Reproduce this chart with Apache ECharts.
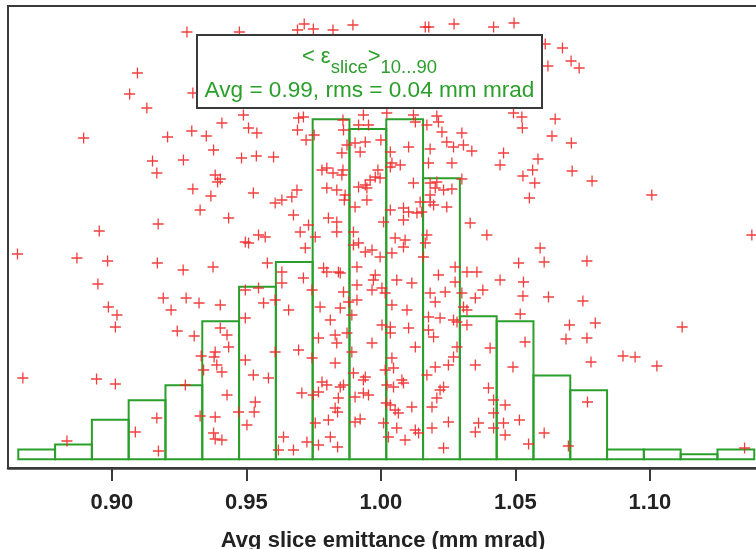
<!DOCTYPE html>
<html>
<head>
<meta charset="utf-8">
<script src="https://cdn.jsdelivr.net/npm/echarts@6/dist/echarts.min.js"></script>
<style>
  html, body { margin: 0; padding: 0; background: #ffffff; }
  #chart { width: 756px; height: 549px; }
</style>
</head>
<body>
<div id="chart"></div>
<script>
// Histogram of average slice emittance: 20 equal bins between the smallest and largest value
const binStart = 0.8652;
const binWidth = 0.01368;
const binCounts = [2, 3, 8, 12, 15, 28, 35, 40, 69, 67, 69, 57, 29, 28, 17, 14, 2, 2, 1, 2];

// Tick positions along the emittance axis (mm mrad)
const tickValues = [0.90, 0.95, 1.00, 1.05, 1.10];

// Individual shots: [emittance (mm mrad), vertical spread (arbitrary units)]
const scatterPoints = [
  [0.9279,436],[0.9474,436],[0.9095,395],[0.9066,374],[0.9130,360],[0.9301,375],[0.8895,330],[0.9489,353],
  [0.9409,345],[0.9297,337],[0.9351,332],[0.9207,331],[0.9508,340],[0.9539,335],[0.9378,318],[0.9151,307],
  [0.9266,308],[0.9482,310],[0.9537,312],[0.9167,295],[0.9384,293],[0.9403,289],[0.9393,286],[0.9301,279],
  [0.9368,272],[0.9526,275],[1.0495,445],[1.0611,424],[1.0675,420],[1.0707,407],[1.0737,400],[1.0621,402],
  [1.0493,355],[1.0524,351],[1.0526,340],[1.0648,349],[1.0636,332],[1.0708,325],[1.0456,315],[1.0443,303],
  [1.0584,309],[1.0564,298],[1.0528,292],[1.0572,285],[1.0711,297],[1.0785,287],[1.1007,273],[1.0552,270],
  [0.9690,438],[0.9715,444],[0.9749,439],[0.9822,438],[0.9896,443],[1.0165,441],[1.0178,441],[1.0272,444],
  [1.0419,441],[0.9694,350],[0.9712,351],[0.9859,348],[0.9935,353],[1.0022,355],[1.0121,353],[1.0208,352],
  [0.9601,311],[0.9690,338],[0.9722,328],[0.9752,333],[0.9861,338],[0.9954,343],[0.9917,343],[1.0000,328],
  [0.9942,326],[0.9904,325],[0.9874,323],[0.9923,316],[0.9855,315],[1.0128,346],[1.0171,343],[1.0214,346],
  [1.0227,336],[1.0245,326],[1.0270,321],[1.0301,335],[1.0307,323],[1.0338,317],[1.0103,321],[1.0035,316],
  [1.0183,319],[1.0041,305],[1.0035,301],[1.0072,303],[1.0177,305],[1.0264,305],[0.9989,298],[0.9979,291],
  [0.9997,290],[0.9960,288],[0.9942,283],[0.9917,281],[0.9948,280],[0.9948,268],[0.9799,300],[0.9781,298],
  [0.9822,295],[0.9859,298],[0.9855,293],[0.9799,280],[0.9836,278],[0.9867,273],[0.9864,268],[0.9904,261],
  [0.9688,278],[0.9669,271],[0.9632,268],[0.9607,265],[0.9328,258],[0.9434,250],[0.9675,253],[0.9731,243],
  [0.9805,250],[0.9836,246],[1.0010,246],[1.0035,258],[1.0084,260],[1.0103,256],[1.0134,255],[1.0152,256],
  [1.0146,266],[1.0121,285],[1.0183,285],[1.0208,286],[1.0202,280],[1.0233,278],[1.0264,279],[1.0183,273],
  [1.0196,263],[1.0245,261],[1.0183,266],[1.0301,289],[1.0332,245],[1.0084,248],[0.9496,226],[0.9508,225],
  [0.9545,233],[0.9570,231],[0.9700,236],[0.9719,220],[0.9756,231],[0.9836,236],[0.9898,236],[0.9898,223],
  [0.9917,225],[0.9942,216],[0.9967,218],[0.9997,211],[1.0041,215],[1.0053,230],[1.0090,228],[1.0084,221],
  [1.0171,233],[1.0165,225],[1.0158,211],[0.9376,201],[0.9578,205],[0.9632,196],[0.9632,185],[0.9712,190],
  [0.9787,200],[0.9799,196],[0.9842,196],[0.9849,195],[0.9911,201],[0.9979,193],[0.9972,188],[1.0059,188],
  [1.0115,185],[1.0214,193],[1.0276,201],[1.0276,186],[1.0320,196],[1.0357,196],[0.9496,178],[0.9545,180],
  [0.9744,178],[0.9861,176],[0.9911,183],[0.9967,178],[1.0004,180],[1.0016,175],[0.9911,168],[0.9880,166],
  [1.0183,175],[1.0239,176],[1.0202,166],[1.0301,175],[1.0351,170],[0.9403,163],[0.9564,165],[0.9607,168],
  [0.9657,158],[0.9774,161],[0.9849,160],[0.9892,153],[1.0041,163],[1.0097,158],[1.0177,151],[1.0220,150],
  [1.0270,148],[1.0307,161],[1.0320,158],[0.9496,150],[0.9812,148],[1.0004,143],[1.0035,141],[1.0103,140],
  [1.0320,143],[0.9403,140],[0.9428,133],[0.9434,121],[0.9384,116],[0.9380,111],[0.9390,103],[0.9409,96],
  [0.9341,98],[0.9768,130],[0.9830,133],[0.9836,125],[0.9874,135],[0.9967,125],[1.0035,135],[1.0177,138],
  [1.0196,131],[1.0128,121],[1.0283,121],[0.9607,116],[0.9694,118],[0.9892,116],[1.0041,110],[1.0047,100],
  [1.0016,98],[1.0270,111],[1.0251,103],[1.0202,101],[1.0171,93],[1.0351,103],[0.9496,108],[0.9526,93],
  [0.9582,90],[0.9744,110],[0.9830,105],[0.9898,95],[0.9942,91],[0.9935,88],[0.9781,86],[0.9799,83],
  [0.9849,81],[0.9861,83],[1.0078,88],[1.0084,85],[1.0047,81],[1.0233,81],[0.9533,66],[0.9529,56],
  [0.9706,75],[0.9749,73],[0.9768,76],[0.9842,70],[0.9830,60],[0.9839,56],[0.9805,48],[0.9756,45],
  [0.9638,31],[0.9619,18],[0.9675,18],[0.9725,26],[0.9768,23],[0.9812,31],[0.9839,21],[0.9904,71],
  [0.9935,75],[0.9954,73],[0.9904,46],[0.9923,49],[1.0010,45],[1.0020,65],[1.0035,63],[1.0053,58],
  [1.0065,55],[1.0022,83],[1.0115,61],[1.0059,40],[1.0028,31],[1.0090,28],[1.0128,38],[1.0140,35],
  [1.0190,61],[1.0208,70],[1.0220,78],[1.0190,40],[1.0251,46],[1.0233,20],[1.0400,80],[1.0419,68],
  [1.0419,55],[1.0419,40],[1.0462,63],[1.0462,33],[1.0363,45],[1.0351,36],[0.9273,83],[0.9167,50],
  [0.9087,36],[0.9173,17],[0.9328,52],[0.9384,51],[0.9428,73],[0.9378,35],[0.9384,29],[0.9409,28],
  [0.9471,56],[0.9502,43],[1.0456,45],[1.0515,48],[1.0549,24],[1.0607,35],[1.0697,22],[1.0768,66],
  [1.1352,20],[1.0394,233],[1.0592,220],[1.0607,206],[1.0512,205],[1.0766,207],[1.0443,188],[1.0530,186],
  [1.0379,178],[1.0528,172],[1.0623,171],[1.0751,167],[1.0518,154],[1.0283,146],[1.0701,143],[1.0797,145],
  [1.0688,129],[1.0766,130],[1.0536,126],[1.0406,120],[1.0491,101],[1.0781,106],[1.0900,112],[1.0945,111],
  [1.1379,233],[1.1120,141],[1.1026,102],[0.8953,237],[0.8649,214],[0.8870,210],[0.8984,207],[0.8948,184],
  [0.8987,161],[0.9019,153],[0.9013,141],[0.8669,90],[0.8943,89],[0.9013,84],[0.8833,27],
  [0.9172,244],[0.9169,205],[0.9265,198],[0.9276,170],[0.9191,170],[0.9220,158],[0.9324,165],[0.9243,137],
  [0.9306,132],[0.9332,112]
];

// Text of the statistics box
const boxTitleMain = ['< ', 'ε', '>'];
const boxTitleSubs = ['slice', '10...90'];
const boxStatsLine = 'Avg = 0.99, rms = 0.04 mm mrad';

const GREEN = '#2b9f2b';
const RED = '#ef2a2a';
const FRAME = '#3a3a3a';
const FONT = '"Liberation Sans", Arial, Helvetica, sans-serif';

// Lay out the box title as separate runs so the subscripts can sit lower
const measureCtx = document.createElement('canvas').getContext('2d');
function textWidth(str, size) {
  measureCtx.font = size + 'px ' + FONT;
  return measureCtx.measureText(str).width;
}
const boxX = 197, boxY = 35, boxW = 345, boxH = 73;
const mainSize = 22, subSize = 18.5, statsSize = 22.6;
const titleRuns = [
  { text: boxTitleMain[0], size: mainSize, sub: false },
  { text: boxTitleMain[1], size: mainSize, sub: false },
  { text: boxTitleSubs[0], size: subSize, sub: true },
  { text: boxTitleMain[2], size: mainSize, sub: false },
  { text: boxTitleSubs[1], size: subSize, sub: true }
];
const titleWidth = titleRuns.reduce((s, r) => s + textWidth(r.text, r.size), 0);
let cursor = boxX + boxW / 2 - titleWidth / 2;
const titleElements = titleRuns.map(r => {
  const el = {
    type: 'text',
    x: cursor,
    y: r.sub ? 67.5 : 56.5,
    z: 102,
    silent: true,
    style: {
      text: r.text,
      font: r.size + 'px ' + FONT,
      fill: GREEN,
      align: 'left',
      verticalAlign: 'middle'
    }
  };
  cursor += textWidth(r.text, r.size);
  return el;
});

const chart = echarts.init(document.getElementById('chart'), null, { renderer: 'canvas' });

chart.setOption({
  animation: false,
  backgroundColor: '#ffffff',
  grid: {
    left: 8, top: 6, width: 750, height: 462,
    show: true, borderColor: FRAME, borderWidth: 2,
    containLabel: false, outerBoundsMode: 'none'
  },
  xAxis: {
    type: 'value',
    min: 0.86138,
    max: 1.14019,
    axisLine: { show: true, onZero: false, lineStyle: { color: FRAME, width: 2.5 } },
    axisTick: { show: true, length: 13, customValues: tickValues, lineStyle: { color: FRAME, width: 2 } },
    axisLabel: {
      customValues: tickValues,
      formatter: v => v.toFixed(2),
      fontFamily: FONT, fontSize: 22, fontWeight: 'bold', color: '#222222', margin: 24
    },
    splitLine: { show: false },
    name: 'Avg slice emittance (mm mrad)',
    nameLocation: 'middle',
    nameGap: 62,
    nameTextStyle: { fontFamily: FONT, fontSize: 22, fontWeight: 'bold', color: '#222222' }
  },
  yAxis: [
    { type: 'value', min: -1.765, max: 91.95, show: false },
    { type: 'value', min: 0, max: 462, show: false }
  ],
  series: [
    {
      type: 'custom',
      name: 'histogram',
      silent: true,
      xAxisIndex: 0,
      yAxisIndex: 0,
      z: 2,
      encode: { x: [0, 1], y: 2 },
      data: binCounts.map((c, i) => [binStart + i * binWidth, binStart + (i + 1) * binWidth, c]),
      renderItem: function (params, api) {
        const lo = api.coord([api.value(0), 0]);
        const hi = api.coord([api.value(1), api.value(2)]);
        return {
          type: 'rect',
          shape: { x: lo[0], y: hi[1], width: hi[0] - lo[0], height: lo[1] - hi[1] },
          style: { fill: 'none', stroke: GREEN, lineWidth: 2 }
        };
      }
    },
    {
      type: 'scatter',
      name: 'shots',
      silent: true,
      xAxisIndex: 0,
      yAxisIndex: 1,
      z: 3,
      symbol: 'path://M5,0L5,10M0,5L10,5',
      symbolSize: 11,
      itemStyle: { color: 'rgba(0,0,0,0)', borderColor: RED, borderWidth: 1.3, opacity: 0.9 },
      data: scatterPoints
    }
  ],
  graphic: [
    {
      type: 'rect',
      z: 100,
      silent: true,
      shape: { x: boxX, y: boxY, width: boxW, height: boxH },
      style: { fill: '#ffffff', stroke: FRAME, lineWidth: 2 }
    },
    ...titleElements,
    {
      type: 'text',
      x: boxX + boxW / 2,
      y: 91,
      z: 102,
      silent: true,
      style: {
        text: boxStatsLine,
        font: statsSize + 'px ' + FONT,
        fill: GREEN,
        align: 'center',
        verticalAlign: 'middle'
      }
    }
  ]
});
</script>
</body>
</html>
